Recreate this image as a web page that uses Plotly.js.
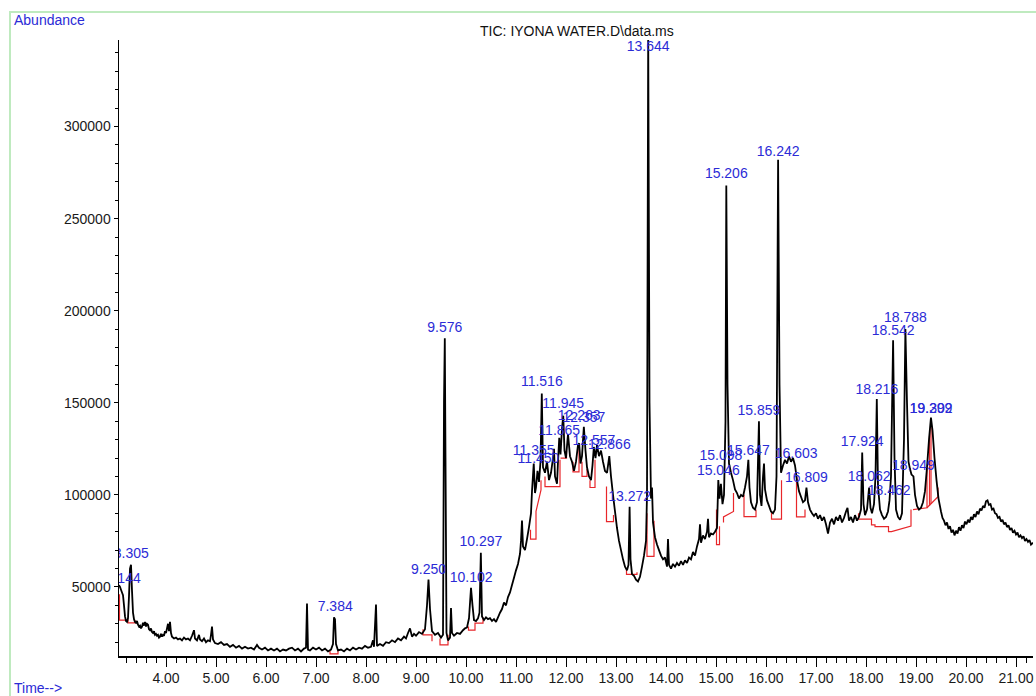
<!DOCTYPE html>
<html>
<head>
<meta charset="utf-8">
<script src="https://cdn.plot.ly/plotly-3.0.1.min.js"></script>
<style>
  html, body { margin: 0; padding: 0; background: #ffffff; }
  #chart { width: 1036px; height: 696px; }
</style>
</head>
<body>
<div id="chart"></div>
<script>
// ---- TIC trace (retention time in minutes, abundance) ----
const retentionTime = [
  3.06,3.08,3.10,3.12,3.14,3.16,3.18,3.20,3.22,3.24,
  3.26,3.28,3.30,3.32,3.34,3.36,3.38,3.40,3.42,3.44,
  3.46,3.48,3.50,3.52,3.54,3.56,3.58,3.60,3.62,3.64,
  3.66,3.68,3.70,3.72,3.74,3.76,3.78,3.80,3.82,3.84,
  3.86,3.88,3.90,3.92,3.94,3.96,3.98,4.00,4.02,4.04,
  4.06,4.08,4.10,4.12,4.16,4.20,4.24,4.28,4.32,4.36,
  4.40,4.44,4.48,4.52,4.56,4.58,4.62,4.66,4.68,4.72,
  4.76,4.80,4.84,4.88,4.90,4.92,4.94,4.98,5.04,5.10,
  5.16,5.22,5.28,5.34,5.40,5.46,5.52,5.58,5.64,5.70,
  5.76,5.82,5.86,5.92,5.98,6.04,6.10,6.16,6.22,6.28,
  6.34,6.40,6.46,6.52,6.58,6.64,6.70,6.76,6.80,6.82,
  6.84,6.88,6.94,7.00,7.06,7.12,7.18,7.24,7.30,7.34,
  7.36,7.38,7.40,7.44,7.50,7.56,7.62,7.68,7.74,7.80,
  7.86,7.92,7.98,8.04,8.10,8.14,8.16,8.20,8.22,8.28,
  8.34,8.40,8.46,8.52,8.58,8.64,8.70,8.76,8.80,8.84,
  8.88,8.92,8.96,9.00,9.06,9.12,9.18,9.22,9.25,9.28,
  9.32,9.38,9.44,9.50,9.54,9.56,9.576,9.59,9.61,9.64,
  9.68,9.70,9.72,9.76,9.82,9.88,9.94,9.98,10.02,10.06,
  10.10,10.13,10.16,10.20,10.24,10.27,10.297,10.32,10.36,10.40,
  10.44,10.48,10.52,10.56,10.60,10.64,10.68,10.72,10.76,10.80,
  10.84,10.88,10.92,10.96,11.00,11.04,11.08,11.10,11.12,11.14,
  11.18,11.22,11.26,11.30,11.32,11.355,11.38,11.40,11.43,11.46,
  11.49,11.516,11.54,11.58,11.62,11.66,11.70,11.74,11.76,11.78,
  11.82,11.84,11.865,11.89,11.92,11.945,11.97,12.00,12.04,12.08,
  12.12,12.16,12.20,12.24,12.263,12.29,12.32,12.357,12.39,12.42,
  12.46,12.50,12.53,12.557,12.59,12.62,12.66,12.70,12.74,12.78,
  12.82,12.866,12.90,12.94,12.98,13.02,13.06,13.10,13.14,13.18,
  13.22,13.25,13.272,13.29,13.32,13.36,13.40,13.44,13.48,13.52,
  13.56,13.60,13.62,13.644,13.67,13.70,13.72,13.74,13.78,13.82,
  13.86,13.90,13.94,13.98,14.02,14.04,14.06,14.10,14.14,14.18,
  14.22,14.26,14.30,14.34,14.38,14.42,14.46,14.50,14.54,14.58,
  14.62,14.66,14.68,14.70,14.74,14.78,14.82,14.84,14.86,14.90,
  14.94,14.98,15.02,15.046,15.07,15.098,15.13,15.16,15.19,15.206,
  15.23,15.26,15.30,15.34,15.38,15.42,15.46,15.50,15.54,15.58,
  15.62,15.647,15.67,15.70,15.74,15.78,15.82,15.859,15.88,15.91,
  15.94,15.96,15.98,16.02,16.06,16.10,16.14,16.18,16.21,16.242,
  16.27,16.30,16.34,16.38,16.42,16.46,16.50,16.54,16.58,16.62,
  16.66,16.70,16.74,16.78,16.809,16.84,16.88,16.92,16.96,17.00,
  17.04,17.08,17.12,17.16,17.20,17.24,17.28,17.32,17.36,17.40,
  17.44,17.48,17.52,17.56,17.60,17.63,17.66,17.70,17.74,17.78,
  17.82,17.86,17.90,17.924,17.95,17.98,18.02,18.062,18.09,18.12,
  18.16,18.19,18.216,18.24,18.28,18.32,18.36,18.40,18.44,18.47,
  18.50,18.542,18.57,18.60,18.64,18.68,18.72,18.76,18.788,18.82,
  18.85,18.88,18.91,18.949,18.98,19.02,19.06,19.10,19.14,19.18,
  19.22,19.26,19.299,19.33,19.37,19.41,19.45,
  19.50,19.53,19.56,19.59,19.62,19.65,19.68,19.71,19.74,19.77,
  19.80,19.83,19.86,19.89,19.92,19.95,19.98,20.01,20.04,20.07,
  20.10,20.13,20.16,20.19,20.22,20.25,20.28,20.31,20.34,20.37,
  20.40,20.43,20.46,20.49,20.52,20.55,20.58,20.61,20.64,20.67,
  20.70,20.73,20.76,20.79,20.82,20.85,20.88,20.91,20.94,20.97,
  21.00,21.03,21.06,21.09,21.12,21.15,21.18,21.21,21.24,21.27,
  21.30,21.34
];
const abundance = [
  51000,50000,48500,47000,45500,40000,34000,31500,31000,33000,
  45000,60000,62000,48000,36000,32500,31000,30500,31500,29500,
  28500,29000,27500,28500,30500,29000,31000,28500,30000,29500,
  27000,26500,27500,25500,25000,26000,24000,24500,23500,24000,
  22500,23000,24500,23000,24000,23500,26000,25000,27500,30000,
  26000,31000,25000,23000,22000,22500,21500,22000,21000,22500,
  21500,22000,21000,23500,26500,22000,21000,24000,21500,20500,
  22000,20000,21000,20500,24000,28500,21500,19500,19000,20000,
  18500,19000,17500,18500,17000,18000,16500,17500,16500,17000,
  16000,18500,17000,16000,17000,15500,16500,15500,16500,15000,
  16000,15500,16500,17000,15500,16500,15000,16500,17000,41000,
  16000,15500,17000,16000,17000,15500,16500,15000,16000,19000,
  33500,32500,19000,15500,16000,15000,16500,15500,17000,16000,
  17000,16500,18000,17000,17500,21000,17500,40500,18000,19000,
  18000,20000,19500,21000,20000,22000,21000,23000,22000,25000,
  27500,23000,24500,23500,25500,24500,27000,40000,54000,38000,
  26000,24000,25000,22500,24000,150000,185000,120000,25000,21000,
  22500,38500,25000,23500,25000,24500,26500,27500,28000,33000,
  49500,40000,32000,31500,33000,36000,68500,34000,32000,33500,
  32500,33000,31500,32500,31000,33500,36000,38000,41500,40000,
  44500,47000,51000,55000,59000,62500,68000,75000,86000,72000,
  70000,76000,82500,90000,102000,117000,101000,104000,113000,107000,
  118000,155000,115000,112000,118000,108000,112000,120000,125000,110000,
  106000,118000,131000,122000,136000,143000,124000,120000,133000,121000,
  118000,113000,118000,127000,128000,117000,121000,137000,124000,115000,
  110000,108000,116000,126000,120000,127000,121000,124000,118000,113000,
  112000,121000,110000,100000,91000,82000,75000,70000,65000,61000,
  59000,62000,93500,65000,57000,56000,54000,53000,55500,61000,
  67000,75000,100000,351000,150000,98000,104000,85000,77000,73000,
  70000,67000,65000,66000,61000,76000,62000,60000,62500,61000,
  63000,61500,64000,62000,64500,63000,66000,65000,69000,67000,
  72000,76000,84000,74000,78000,76000,80000,87000,77000,79000,
  78500,80000,82000,108000,98000,106000,95000,100000,140000,268000,
  160000,117000,112000,108000,103000,101000,98000,100000,99000,104000,
  110000,119000,104000,96000,93000,92000,96000,140000,100000,94000,
  110000,117000,103000,97000,94000,91000,90000,92000,110000,282000,
  160000,112000,116000,119000,117000,121000,118000,120000,116000,108000,
  102000,99000,96000,97000,104000,96000,92000,90000,88500,90000,
  87000,89000,86000,88000,84000,79000,85000,87000,84000,88000,
  86000,89000,85000,87500,91000,93000,86000,88000,85000,89000,
  86000,88000,92000,123000,95000,89000,92000,104000,93000,90000,
  95000,110000,152000,105000,92000,89000,87000,88000,91000,97000,
  110000,184000,120000,92000,88000,86500,90000,130000,190000,150000,
  118000,114000,111000,110000,100000,94000,92000,93000,96000,102000,
  115000,130000,142000,135000,120000,108000,98000,
  91000,87500,86000,83500,85000,81500,83000,79500,81000,78000,
  80500,79000,82500,80500,83500,82000,85500,84000,86500,85000,
  88000,86500,89500,88000,91000,89500,92500,91500,94000,93000,
  96500,97000,94500,95000,92000,92500,90000,89500,87500,88000,
  85500,86500,84000,85000,82500,83500,81000,82000,79500,80500,
  78500,79500,77000,78000,76500,77500,75000,76000,74500,75500,
  73000,74000
];

// ---- integration baselines (red), null separates segments ----
const baselineTime = [
  3.07,3.07,3.24,3.24,3.38,3.38,null,
  7.28,7.28,7.44,7.44,null,
  9.14,9.14,9.32,9.32,null,
  9.48,9.48,9.64,9.64,null,
  10.05,10.05,10.18,10.18,10.34,10.34,null,
  11.29,11.29,11.40,11.40,11.50,11.50,null,
  11.58,11.58,11.88,11.88,null,
  11.89,12.01,12.01,null,
  12.14,12.14,12.26,12.26,null,
  12.32,12.32,12.42,12.42,null,
  12.48,12.48,12.58,12.58,null,
  12.81,12.81,12.95,12.95,null,
  13.21,13.21,13.42,13.42,null,
  13.62,13.62,13.76,13.76,null,
  15.01,15.01,15.07,15.07,null,
  15.15,15.15,15.35,15.35,null,
  15.56,15.56,15.80,15.80,null,
  16.11,16.11,16.31,16.31,null,
  16.61,16.61,16.78,16.78,null,
  17.85,17.85,18.11,18.11,18.18,18.18,18.45,18.45,18.51,18.90,18.90,null,
  18.94,19.22,19.22,null,
  19.22,19.44,19.44,null,
  19.27,19.27,null,
  19.30,19.30
];
const baselineAbundance = [
  46000,32000,32000,30500,30500,32000,null,
  15500,13600,13600,15500,null,
  27000,24000,24000,20500,null,
  22000,18500,18500,24000,null,
  28500,26600,26600,30400,30400,33500,null,
  81000,76000,76000,91000,102700,108000,null,
  110000,104500,104500,119000,null,
  120000,120000,124000,null,
  118000,112500,112500,125000,null,
  118000,110000,110000,114000,null,
  108000,104000,104000,119000,null,
  104500,85500,85500,89000,null,
  60000,56800,56800,58000,null,
  90000,66600,66600,86000,null,
  92000,73000,73000,83000,null,
  85000,88000,91000,101000,null,
  100000,88200,88200,92000,null,
  91000,86800,86800,108000,null,
  110000,88000,88000,92000,null,
  90000,86800,86800,83700,83700,82800,82800,80000,80000,83000,92000,null,
  92000,93000,115000,null,
  93000,99000,104000,null,
  94000,132000,null,
  95000,141000
];

// ---- peak labels ----
const peakLabels = ['3.144','3.305','7.384','9.250','9.576','10.102','10.297','11.355','11.450','11.516',
  '11.865','11.945','12.263','12.357','12.557','12.866','13.272','13.644','15.046','15.098',
  '15.206','15.647','15.859','16.242','16.603','16.809','17.924','18.062','18.216','18.462',
  '18.542','18.788','18.949','19.299','19.302'];
const peakTimes = [3.144,3.305,7.384,9.250,9.576,10.102,10.297,11.355,11.450,11.516,
  11.865,11.945,12.263,12.357,12.557,12.866,13.272,13.644,15.046,15.098,
  15.206,15.647,15.859,16.242,16.603,16.809,17.924,18.062,18.216,18.462,
  18.542,18.788,18.949,19.299,19.302];
const labelLevel = [53800,67400,39100,58700,190200,54400,73900,123400,119000,160900,
  134200,148900,142400,141500,128800,126600,98400,343000,112500,120700,
  273900,123400,145100,285900,121700,108700,128300,109200,156500,101600,
  188600,195700,115200,146200,146200];

const FONT = 'Liberation Sans, Arial, sans-serif';
const BLUE = '#2b2bd6';

const traces = [
  {
    x: baselineTime, y: baselineAbundance, type: 'scatter', mode: 'lines',
    line: { color: '#e8262a', width: 1.2 }, connectgaps: false, hoverinfo: 'skip'
  },
  {
    x: retentionTime, y: abundance, type: 'scatter', mode: 'lines',
    line: { color: '#000000', width: 1.8, simplify: false }
  },
  {
    x: peakTimes, y: labelLevel, text: peakLabels, type: 'scatter', mode: 'text',
    textposition: 'middle center', cliponaxis: true,
    textfont: { family: FONT, size: 14, color: BLUE }
  }
];

const x0px = 119, plotW = 914, plotBottom = 656, plotH = 616;
const layout = {
  width: 1036, height: 696,
  margin: { l: 119, r: 3, t: 40, b: 40 },
  paper_bgcolor: '#ffffff', plot_bgcolor: '#ffffff',
  showlegend: false,
  font: { family: FONT, size: 14, color: '#1a1a1a' },
  title: {
    text: 'TIC: IYONA WATER.D\\data.ms',
    font: { family: FONT, size: 14, color: '#111111' },
    x: 0.501, xref: 'paper', xanchor: 'center',
    y: 1 - 31 / 696, yref: 'container', yanchor: 'middle'
  },
  xaxis: {
    range: [3.06, 21.34], showgrid: false, zeroline: false,
    showline: true, linecolor: '#000', linewidth: 1.5,
    ticks: 'outside', ticklen: 9, tickwidth: 1, tickcolor: '#000',
    tick0: 0, dtick: 1, tickformat: '.2f',
    tickfont: { family: FONT, size: 14, color: '#1a1a1a' },
    minor: { ticks: 'outside', dtick: 0.2, tick0: 0, ticklen: 5, tickcolor: '#000', tickwidth: 1, showgrid: false },
    fixedrange: true
  },
  yaxis: {
    range: [12500, 347000], showgrid: false, zeroline: false,
    showline: true, linecolor: '#000', linewidth: 1.5,
    ticks: 'outside', ticklen: 4, tickwidth: 1, tickcolor: '#000',
    tick0: 0, dtick: 50000, tickformat: 'd',
    tickfont: { family: FONT, size: 14, color: '#1a1a1a' },
    minor: { ticks: 'outside', dtick: 10000, tick0: 0, ticklen: 3, tickcolor: '#000', tickwidth: 1, showgrid: false },
    fixedrange: true
  },
  shapes: [
    {
      type: 'rect', xref: 'paper', yref: 'paper',
      x0: (10 - x0px) / plotW, x1: (1045 - x0px) / plotW,
      y0: (plotBottom - 705) / plotH, y1: (plotBottom - 12) / plotH,
      line: { color: '#bfeabf', width: 2 }, fillcolor: 'rgba(0,0,0,0)', layer: 'below'
    }
  ],
  annotations: [
    {
      text: 'Abundance', xref: 'paper', yref: 'paper',
      x: (12 - x0px) / plotW, y: (plotBottom - 20) / plotH,
      xanchor: 'left', yanchor: 'middle', showarrow: false,
      font: { family: FONT, size: 14, color: BLUE }
    },
    {
      text: 'Time-->', xref: 'paper', yref: 'paper',
      x: (12 - x0px) / plotW, y: (plotBottom - 688) / plotH,
      xanchor: 'left', yanchor: 'middle', showarrow: false,
      font: { family: FONT, size: 14, color: BLUE }
    }
  ]
};

Plotly.newPlot('chart', traces, layout, { displayModeBar: false, staticPlot: true });
</script>
</body>
</html>
